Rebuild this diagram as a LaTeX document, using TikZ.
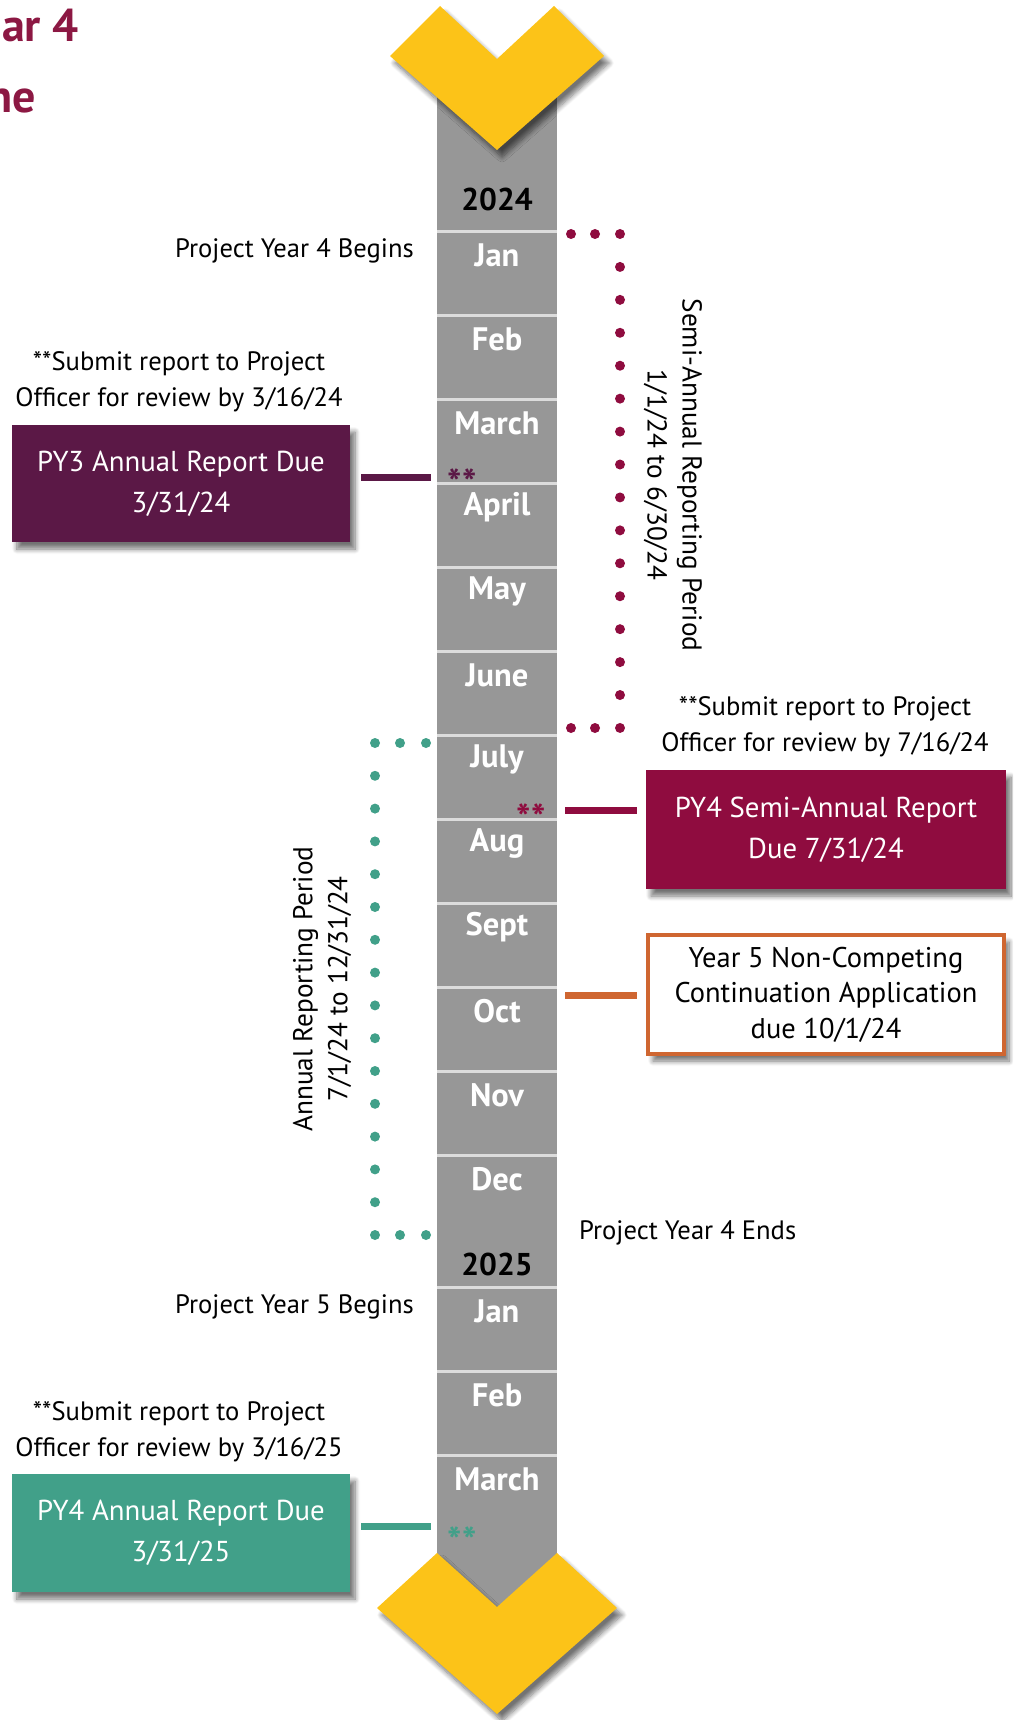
\documentclass[tikz,border=0pt]{standalone}
\usepackage{fontspec}
\setmainfont{PT Sans}
\usetikzlibrary{shadows.blur}
\definecolor{bargray}{HTML}{979797}
\definecolor{sepgray}{HTML}{DCDCDC}
\definecolor{chevy}{HTML}{FCC318}
\definecolor{plum}{HTML}{5B1846}
\definecolor{crim}{HTML}{8F0C3F}
\definecolor{tealc}{HTML}{41A089}
\definecolor{orng}{HTML}{CF6631}
\definecolor{titlec}{HTML}{8C1843}
\tikzset{
  mshadow/.style={blur shadow={shadow xshift=5pt, shadow yshift=-7pt, shadow blur radius=5pt, shadow blur steps=8, shadow opacity=55}},
  month/.style={text=white, font=\fontsize{32.5}{32}\selectfont\bfseries, inner sep=0pt},
  yearlbl/.style={text=black, font=\fontsize{31.5}{32}\selectfont\bfseries, inner sep=0pt},
  lbl/.style={text=black, font=\fontsize{26.6}{36}\selectfont, inner sep=0pt, align=center},
  rlbl/.style={text=black, font=\fontsize{27.3}{35}\selectfont, inner sep=0pt, align=center},
  duebox/.style={mshadow, inner sep=0pt, align=center, text=white, minimum width=338pt, font=\fontsize{28.8}{41}\selectfont},
  conn/.style={line width=7pt},
  stars/.style={font=\fontsize{38}{38}\selectfont\bfseries, inner sep=0pt, text height=0.72em, text depth=-0.42em},
  titletxt/.style={text=titlec, font=\fontsize{46}{46}\selectfont\bfseries, inner sep=0pt},
}
\begin{document}
\begin{tikzpicture}[x=1pt,y=-1pt]
\useasboundingbox (0,0) rectangle (1013,1720);
\clip (0,0) rectangle (1013,1720);
% title fragments
\node[titletxt, anchor=base east] (t1) at (79,42) {Year 4};
\node[titletxt, anchor=base east] (t2) at (36,113) {Timeline};
% bar
\node[fill=bargray, minimum width=120pt, minimum height=1570pt, inner sep=0pt] (bar) at (497,855) {};
\foreach \yy in {231.5,315.5,399.5,483.5,567.5,651.5,735.5,819.5,903.5,987.5,1071.5,1155.5,1287,1371,1455}
  \draw[sepgray, line width=3pt] (437,\yy) -- (557,\yy);
% months
\foreach \m [count=\i from 0] in {Jan,Feb,March,April,May,June,July,Aug,Sept,Oct,Nov,Dec}
  \node[month] (m\i) at (497,{255.5+84*\i}) {\m};
\node[month] (n0) at (497,1311) {Jan};
\node[month] (n1) at (497,1395) {Feb};
\node[month] (n2) at (497,1479) {March};
\node[yearlbl] (y24) at (497,199) {2024};
\node[yearlbl] (y25) at (497,1264) {2025};
% chevrons
\fill[chevy, mshadow] (440,6) -- (497,59) -- (554,6) -- (604,56) -- (497,150) -- (390,56) -- cycle;
\fill[chevy, mshadow] (437,1553) -- (497,1607) -- (557,1553) -- (617,1608) -- (497,1714) -- (377,1608) -- cycle;
% semi-annual bracket
\foreach \xx in {571,595} {\fill[crim] (\xx,234) circle (5pt); \fill[crim] (\xx,728) circle (5pt);}
\foreach \k in {0,...,15} \fill[crim] (620,{234+32.93*\k}) circle (5pt);
\node[rlbl, rotate=-90] (semi) at (673,475) {Semi-Annual Reporting Period\\1/1/24 to 6/30/24};
% annual bracket
\foreach \xx in {400,426} {\fill[tealc] (\xx,743) circle (5pt); \fill[tealc] (\xx,1235) circle (5pt);}
\foreach \k in {0,...,15} \fill[tealc] (375,{743+32.8*\k}) circle (5pt);
\node[rlbl, rotate=90] (ann) at (322,989) {Annual Reporting Period\\7/1/24 to 12/31/24};
% left/right labels
\node[lbl, anchor=east] (beg4) at (414,251) {Project Year 4 Begins};
\node[lbl] (sub1) at (179,382) {**Submit report to Project\\Officer for review by 3/16/24};
\node[lbl] (sub2) at (825,727) {**Submit report to Project\\Officer for review by 7/16/24};
\node[lbl, anchor=west] (end4) at (579,1233) {Project Year 4 Ends};
\node[lbl, anchor=east] (beg5) at (414,1307) {Project Year 5 Begins};
\node[lbl] (sub3) at (179,1431.5) {**Submit report to Project\\Officer for review by 3/16/25};
% boxes
\node[duebox, fill=plum, minimum height=117pt] (py3) at (181,483.5) {PY3 Annual Report Due\\3/31/24};
\node[duebox, fill=crim, minimum width=360pt, minimum height=119pt] (py4s) at (826,829.5) {PY4 Semi-Annual Report\\Due 7/31/24};
\node[duebox, fill=white, draw=orng, line width=4pt, text=black, minimum width=356pt, minimum height=119pt, font=\fontsize{28.5}{35.5}\selectfont] (y5) at (826,994.5) {Year 5 Non-Competing\\Continuation Application\\due 10/1/24};
\node[duebox, fill=tealc, minimum height=118pt] (py4a) at (181,1533) {PY4 Annual Report Due\\3/31/25};
% connectors
\coordinate (c1a) at (361,477); \coordinate (c1b) at (431,477);
\coordinate (c2a) at (565,810); \coordinate (c2b) at (637,810);
\coordinate (c3a) at (565,995); \coordinate (c3b) at (637,995);
\coordinate (c4a) at (361,1526); \coordinate (c4b) at (431,1526);
\draw[conn, plum] (c1a) -- (c1b);
\draw[conn, crim] (c2a) -- (c2b);
\draw[conn, orng] (c3a) -- (c3b);
\draw[conn, tealc] (c4a) -- (c4b);
% star markers
\node[stars, text=plum] (s1) at (462,493) {**};
\node[stars, text=crim] (s2) at (531,828) {**};
\node[stars, text=tealc] (s3) at (462,1551) {**};
\end{tikzpicture}
\end{document}
